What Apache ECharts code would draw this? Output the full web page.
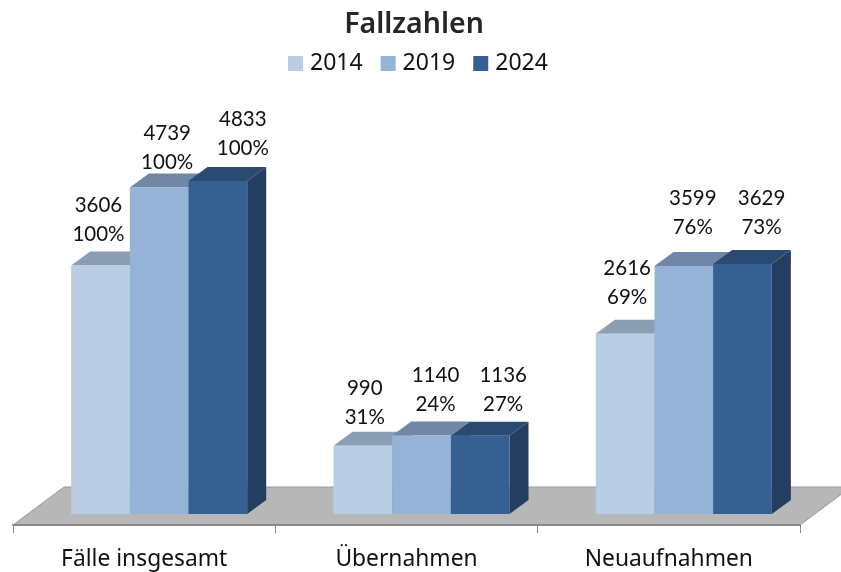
<!DOCTYPE html>
<html><head><meta charset="utf-8">
<script src="https://cdn.jsdelivr.net/npm/echarts@6/dist/echarts.min.js"></script>
<style>html,body{margin:0;padding:0;background:#fff}#c{width:841px;height:572px}</style>
</head><body><div id="c"></div>
<script>
const categories = ['Fälle insgesamt', 'Übernahmen', 'Neuaufnahmen'];
const years = ['2014', '2019', '2024'];
const values2014 = [3606, 990, 2616];
const values2019 = [4739, 1140, 3599];
const values2024 = [4833, 1136, 3629];
const percent2014 = ['100%', '31%', '69%'];
const percent2019 = ['100%', '24%', '76%'];
const percent2024 = ['100%', '27%', '73%'];
// hand-placed label nudges from the reference (px, relative to the bar's back-top centre)
const labelShiftX2014 = [-21, -17, -17];
const labelShiftX2019 = [-11, -5, -10];
const labelShiftX2024 = [6, 4, 0];
const labelShiftY2014 = [17, 14, 22];
const labelShiftY2019 = [11, 17, 25];
const labelShiftY2024 = [19, 17, 23];

const FRONT = ['#B9CDE5', '#95B3D7', '#376092'];
const TOP = ['#8B9EB3', '#7087A6', '#2B4A72'];
const SIDE = ['#6F86A0', '#6F8AA9', '#233E5F'];
const DEPTH_X = 19, DEPTH_Y = 14;
const FLOOR_X = 51, FLOOR_Y = 38;
const SHIFT_X = 15, SHIFT_Y = 11;
const BAR_RATIO = 0.2237;
const FONT = 'Lato';

function barSeries(idx, values, percents, shiftX, shiftY) {
  return {
    name: years[idx],
    type: 'custom',
    coordinateSystem: 'cartesian2d',
    silent: true,
    z: 3 + idx,
    itemStyle: { color: FRONT[idx] },
    data: values.map((v, i) => [i, v]),
    renderItem(params, api) {
      const i = api.value(0), v = api.value(1);
      const base = api.coord([i, 0]);
      const top = api.coord([i, v]);
      const w = api.size([1, 0])[0] * BAR_RATIO;
      const x0 = base[0] + SHIFT_X + (idx - 1.5) * w;
      const x1 = x0 + w;
      const yb = base[1] - SHIFT_Y;
      const yt = top[1] - SHIFT_Y;
      const poly = (points, fill) => ({ type: 'polygon', shape: { points }, style: { fill } });
      const lx = (x0 + x1) / 2 + DEPTH_X + shiftX[i];
      const ly = yt - DEPTH_Y - shiftY[i];
      const txt = (s, y) => ({
        type: 'text', z2: 20,
        style: { text: s, x: lx, y, align: 'center', verticalAlign: 'middle', fill: '#111', font: '20.5px ' + FONT }
      });
      return {
        type: 'group',
        children: [
          poly([[x1, yb], [x1 + DEPTH_X, yb - DEPTH_Y], [x1 + DEPTH_X, yt - DEPTH_Y], [x1, yt]], SIDE[idx]),
          poly([[x0, yt], [x0 + DEPTH_X, yt - DEPTH_Y], [x1 + DEPTH_X, yt - DEPTH_Y], [x1, yt]], TOP[idx]),
          { type: 'rect', shape: { x: x0, y: yt, width: w, height: yb - yt }, style: { fill: FRONT[idx] } },
          txt(String(v), ly - 29),
          txt(percents[i], ly)
        ]
      };
    }
  };
}

const floorSeries = {
  name: 'floor',
  type: 'custom',
  coordinateSystem: 'cartesian2d',
  silent: true,
  z: 1,
  data: [[0, 0]],
  renderItem(params, api) {
    const c = params.coordSys;
    const y = c.y + c.height, xl = c.x, xr = c.x + c.width;
    return {
      type: 'polygon',
      shape: { points: [[xl, y], [xl + FLOOR_X, y - FLOOR_Y], [xr + FLOOR_X, y - FLOOR_Y], [xr, y]] },
      style: { fill: '#B7B7B7', stroke: '#999', lineWidth: 1 }
    };
  }
};

const chart = echarts.init(document.getElementById('c'), null, { renderer: 'canvas' });
chart.setOption({
  animation: false,
  backgroundColor: '#fff',
  title: {
    text: 'Fallzahlen', left: 409, top: 5, textAlign: 'center',
    textStyle: { fontFamily: 'Noto Sans', fontWeight: 600, fontSize: 28.5, color: '#262626' }
  },
  legend: {
    data: years, left: 288, top: 52, padding: 0, itemWidth: 15, itemHeight: 15, itemGap: 18, icon: 'rect',
    selectedMode: false,
    textStyle: { fontFamily: 'Noto Sans', fontSize: 23, color: '#111', padding: [0, 0, 0, 2] }
  },
  grid: { left: 13, right: 41, top: 111.6, bottom: 47, containLabel: false },
  xAxis: {
    type: 'category', data: categories,
    axisLine: { show: true, lineStyle: { color: '#8A8A8A', width: 2 } },
    axisTick: { show: true, length: 8, alignWithLabel: false, lineStyle: { color: '#868686', width: 1 } },
    axisLabel: { margin: 23, fontFamily: 'Noto Sans', fontSize: 22.8, color: '#111' },
    z: 2
  },
  yAxis: { type: 'value', min: 0, max: 6000, interval: 1000, show: false, splitLine: { show: false } },
  series: [
    floorSeries,
    barSeries(0, values2014, percent2014, labelShiftX2014, labelShiftY2014),
    barSeries(1, values2019, percent2019, labelShiftX2019, labelShiftY2019),
    barSeries(2, values2024, percent2024, labelShiftX2024, labelShiftY2024)
  ]
});
</script></body></html>
